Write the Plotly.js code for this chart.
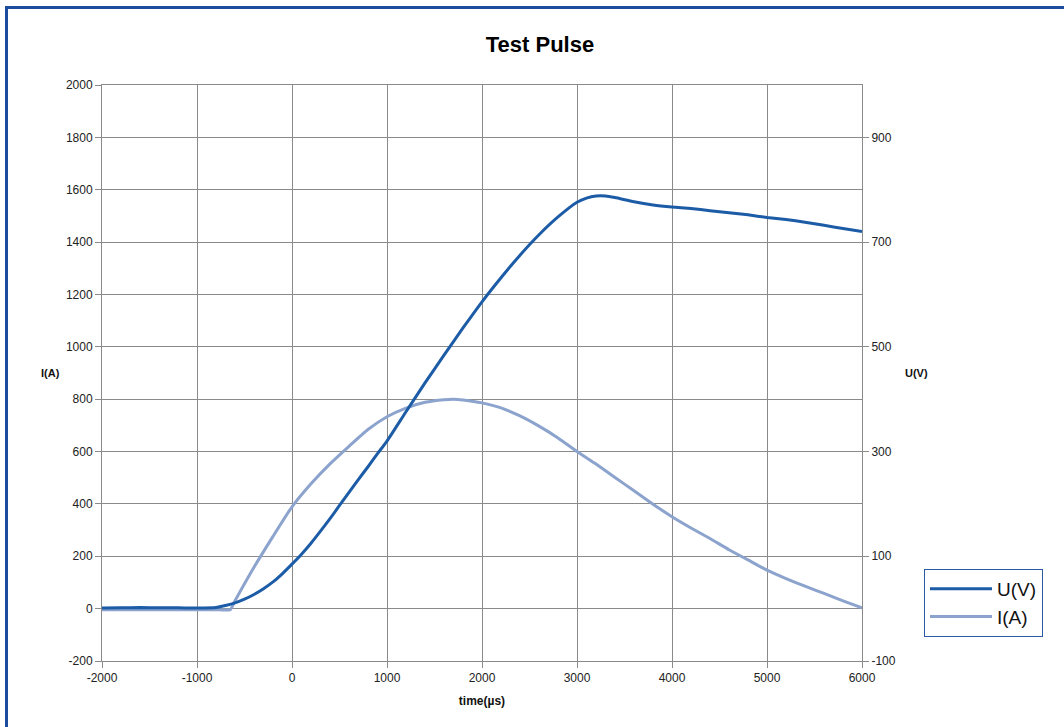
<!DOCTYPE html>
<html>
<head>
<meta charset="utf-8">
<script src="https://cdn.plot.ly/plotly-3.0.1.min.js"></script>
<style>
  html, body { margin: 0; padding: 0; background: #ffffff; }
  #chart { width: 1064px; height: 727px; position: absolute; left: 0; top: 0; }
  #frame { position: absolute; left: 5px; top: 6px; width: 1200px; height: 900px;
           border-left: 3px solid #1d4c9c; border-top: 3px solid #1d4c9c; pointer-events: none; }
</style>
</head>
<body>
<div id="chart"></div>
<div id="frame"></div>
<script>
// time in microseconds
const uTime = [-2000, -1800, -1600, -1400, -1200, -1000, -800, -700, -600, -500, -400, -300, -200, -100, 0,
  100, 200, 300, 400, 500, 600, 700, 800, 900, 1000, 1200, 1400, 1600, 1800, 2000, 2200, 2400, 2600, 2800,
  3000, 3100, 3200, 3300, 3400, 3600, 3800, 4000, 4200, 4400, 4600, 4800, 5000, 5200, 5400, 5600, 5800, 6000];
// voltage U(V), right axis
const uVolt = [1, 1.5, 2, 1.5, 1.5, 1, 2, 6, 11, 18, 27, 38, 51, 67, 85,
  104, 125, 148, 172, 197, 222, 247, 271, 296, 320, 376, 431, 484, 536, 586, 632, 675, 714, 748,
  776, 784, 788, 788, 785, 777, 771, 767, 764, 760, 756, 752, 747, 743, 738, 732, 726, 720];

const iTime = [-2000, -1800, -1600, -1400, -1200, -1000, -800, -650, -600, -400, -200, 0,
  200, 400, 600, 800, 1000, 1200, 1400, 1600, 1700, 1800, 2000, 2200, 2400, 2600, 2800, 3000,
  3200, 3400, 3600, 3800, 4000, 4200, 4400, 4600, 4800, 5000, 5200, 5400, 5600, 5800, 6000];
// current I(A), left axis
const iAmp = [-4, -4, -4, -4, -4, -4, -4, -4, 30, 158, 276, 389,
  477, 553, 620, 684, 733, 766, 788, 798, 800, 797, 786, 767, 736, 697, 652, 600,
  552, 501, 450, 399, 351, 308, 268, 225, 186, 147, 115, 86, 58, 30, 3];

const leftTicks = [-200, 0, 200, 400, 600, 800, 1000, 1200, 1400, 1600, 1800, 2000];
const rightTicks = [-100, 100, 300, 500, 700, 900];
const xTicks = [-2000, -1000, 0, 1000, 2000, 3000, 4000, 5000, 6000];

const FONT = 'Liberation Sans, Arial, Helvetica, sans-serif';

const traces = [
  { x: uTime, y: uVolt, name: 'U(V)', type: 'scatter', mode: 'lines', yaxis: 'y2',
    line: { color: '#1c5ca7', width: 3, shape: 'spline', smoothing: 0.6 } },
  { x: iTime, y: iAmp, name: 'I(A)', type: 'scatter', mode: 'lines', yaxis: 'y',
    line: { color: '#8ca3cd', width: 3, shape: 'spline', smoothing: 0.5 } }
];

const layout = {
  width: 1064, height: 727,
  margin: { l: 102, r: 202, t: 85, b: 66 },
  paper_bgcolor: 'rgba(0,0,0,0)', plot_bgcolor: '#ffffff',
  font: { family: FONT, size: 12, color: '#222' },
  title: { text: '<b>Test Pulse</b>', font: { family: FONT, size: 22, color: '#000' },
           x: 540 / 1064, xref: 'container', xanchor: 'center',
           y: 1 - 44 / 727, yref: 'container', yanchor: 'middle' },
  xaxis: {
    range: [-2000, 6000], tickvals: xTicks, ticktext: xTicks.map(String),
    showgrid: true, gridcolor: '#8a8a8a', gridwidth: 1, zeroline: false,
    showline: true, linecolor: '#8a8a8a', linewidth: 1, mirror: true,
    ticks: 'outside', ticklen: 6, tickcolor: '#8a8a8a',
    tickfont: { family: FONT, size: 12, color: '#222' },
    title: { text: '<b>time(µs)</b>', font: { family: FONT, size: 12, color: '#111' }, standoff: 12 }
  },
  yaxis: {
    range: [-200, 2000], tickvals: leftTicks, ticktext: leftTicks.map(String),
    showgrid: true, gridcolor: '#8a8a8a', gridwidth: 1, zeroline: false,
    showline: true, linecolor: '#8a8a8a', linewidth: 1, mirror: true,
    ticks: 'outside', ticklen: 6, tickcolor: '#8a8a8a',
    tickfont: { family: FONT, size: 12, color: '#222' }
  },
  yaxis2: {
    range: [-100, 1000], overlaying: 'y', side: 'right',
    tickvals: rightTicks, ticktext: rightTicks.map(String),
    showgrid: false, zeroline: false, showline: false,
    ticks: 'outside', ticklen: 6, tickcolor: '#8a8a8a',
    tickfont: { family: FONT, size: 12, color: '#222' }
  },
  annotations: [
    { text: '<b>I(A)</b>', xref: 'paper', yref: 'paper', x: (50 - 102) / 760, y: (661 - 373) / 576,
      xanchor: 'center', yanchor: 'middle',
      showarrow: false, font: { family: FONT, size: 11, color: '#111' } },
    { text: '<b>U(V)</b>', xref: 'paper', yref: 'paper', x: (916 - 102) / 760, y: (661 - 373) / 576,
      xanchor: 'center', yanchor: 'middle',
      showarrow: false, font: { family: FONT, size: 11, color: '#111' } }
  ],
  showlegend: true,
  legend: {
    x: (924 - 102) / 760, y: (661 - 569) / 576, xanchor: 'left', yanchor: 'top',
    bgcolor: '#ffffff', bordercolor: '#2b5aa5', borderwidth: 1,
    font: { family: FONT, size: 19, color: '#111' }, itemwidth: 62
  }
};

Plotly.newPlot('chart', traces, layout, { displayModeBar: false, staticPlot: true });
</script>
</body>
</html>
